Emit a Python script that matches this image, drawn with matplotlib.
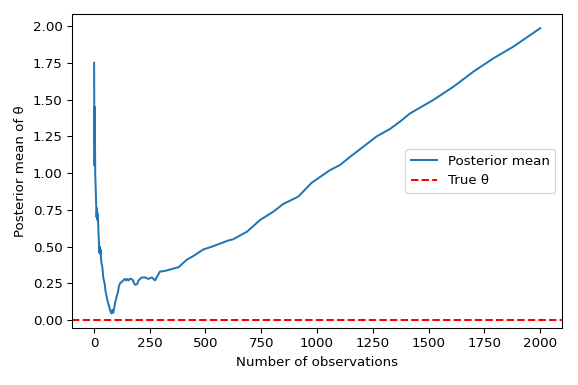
import matplotlib
matplotlib.use('Agg')
import matplotlib.pyplot as plt
import numpy as np

# observations and posterior mean
n_obs = [1, 2, 3, 4, 5, 6, 8, 10, 12, 14, 16, 18, 20, 22, 24, 26, 28, 30, 32, 34,
         38, 42, 48, 52, 57, 63, 69, 74, 79, 83, 87, 92, 97, 102, 108, 112, 117,
         125, 132, 139, 145, 150, 156, 161, 168, 175, 180, 186, 194, 200, 214,
         230, 244, 260, 274, 285, 296, 320, 356, 380, 416, 450, 490, 530, 565,
         600, 625, 660, 685, 700, 744, 804, 849, 916, 976, 1058, 1103, 1148,
         1208, 1268, 1327, 1372, 1417, 1521, 1611, 1701, 1790, 1880, 2000]
post_mean = [1.75, 1.30, 1.05, 1.45, 1.20, 1.00, 0.90, 0.80, 0.70, 0.76, 0.68, 0.72,
             0.62, 0.55, 0.46, 0.50, 0.45, 0.48, 0.42, 0.39, 0.36, 0.29, 0.25, 0.20,
             0.16, 0.12, 0.09, 0.06, 0.045, 0.07, 0.05, 0.09, 0.13, 0.16, 0.19,
             0.23, 0.25, 0.26, 0.27, 0.28, 0.27, 0.28, 0.27, 0.28, 0.28, 0.27,
             0.25, 0.24, 0.245, 0.27, 0.29, 0.29, 0.28, 0.29, 0.27, 0.30, 0.33,
             0.335, 0.35, 0.36, 0.41, 0.44, 0.48, 0.50, 0.52, 0.54, 0.55, 0.58,
             0.60, 0.62, 0.68, 0.737, 0.79, 0.84, 0.934, 1.02, 1.055, 1.11, 1.18,
             1.25, 1.30, 1.35, 1.406, 1.497, 1.587, 1.69, 1.78, 1.86, 1.985]
true_theta = 0.0

fig = plt.figure(figsize=(578 / 96, 385 / 96), dpi=96)
ax = fig.add_axes([0.1246, 0.148, 0.8477, 0.8156])

ax.plot(n_obs, post_mean, color='#1f77b4', linewidth=1.5, label='Posterior mean')
ax.axhline(true_theta, color='red', linestyle='--', linewidth=1.5, label='True θ')

ax.set_xlim(-98, 2098)
ax.set_ylim(-0.054, 2.082)
ax.set_xticks(np.arange(0, 2001, 250))
ax.set_yticks(np.arange(0, 2.01, 0.25))
ax.set_xlabel('Number of observations')
ax.set_ylabel('Posterior mean of θ')
ax.legend(loc='center right')

fig.savefig('out.png', dpi=96)
